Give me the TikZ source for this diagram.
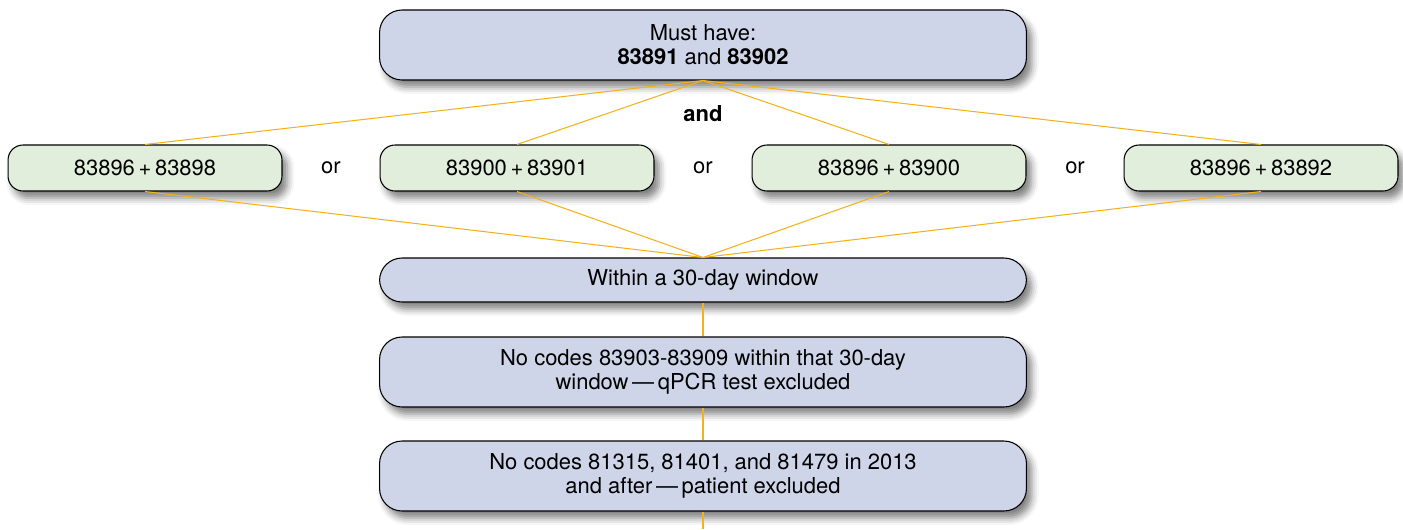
\documentclass[tikz,border=0pt]{standalone}
\usepackage{fontspec}
\setmainfont{TeX Gyre Heros}
\usetikzlibrary{shadows.blur}

\definecolor{stepblue}{HTML}{CFD5E8}
\definecolor{pairgreen}{HTML}{E2EEDC}
\definecolor{linkorange}{HTML}{F2B21C}

\begin{document}
\begin{tikzpicture}[
  x=0.02cm, y=-0.02cm,
  every node/.style={font=\fontsize{12.5}{13.8}\selectfont},
  box/.style={rectangle, draw=black, line width=0.6pt, align=center,
    blur shadow={shadow xshift=3pt, shadow yshift=-4pt, shadow blur radius=4pt, shadow opacity=50}},
  stage/.style={box, fill=stepblue, rounded corners=0.45cm, minimum width=12.94cm, minimum height=1.4cm},
  pair/.style={box, fill=pairgreen, rounded corners=0.3cm, minimum width=5.48cm, minimum height=0.92cm},
  link/.style={draw=linkorange, line width=0.6pt},
]
\useasboundingbox (0,0) rectangle (1403,529);

% Links (drawn first, boxes sit on top)
\coordinate (tail) at (703,529);

% Row 1: required codes
\node[stage] (must) at (703,45) {Must have:\\\textbf{83891} and \textbf{83902}};
\node[font=\fontsize{12.5}{13.8}\selectfont\bfseries] (and) at (703,114) {and};

% Row 2: code pairs
\node[pair] (p1) at (145,168) {83896\,+\,83898};
\node[pair] (p2) at (517,168) {83900\,+\,83901};
\node[pair] (p3) at (889,168) {83896\,+\,83900};
\node[pair] (p4) at (1261,168) {83896\,+\,83892};
\node (or1) at (331,168) {or};
\node (or2) at (703,168) {or};
\node (or3) at (1075,168) {or};

% Rows 3-5: window and exclusions
\node[stage, minimum height=0.88cm] (window) at (703,280) {Within a 30-day window};
\node[stage] (qpcr) at (703,372) {No codes 83903-83909 within that 30-day\\window\,---\,qPCR test excluded};
\node[stage] (patient) at (703,476) {No codes 81315, 81401, and 81479 in 2013\\and after\,---\,patient excluded};

% Connectors
\begin{scope}[on background layer/.try]
\foreach \p in {p1,p2,p3,p4} {
  \draw[link] (must.south) -- (\p.north);
  \draw[link] (\p.south) -- (window.north);
}
\draw[link] (window) -- (qpcr);
\draw[link] (qpcr) -- (patient);
\draw[link] (patient) -- (tail);
\end{scope}

\end{tikzpicture}
\end{document}
